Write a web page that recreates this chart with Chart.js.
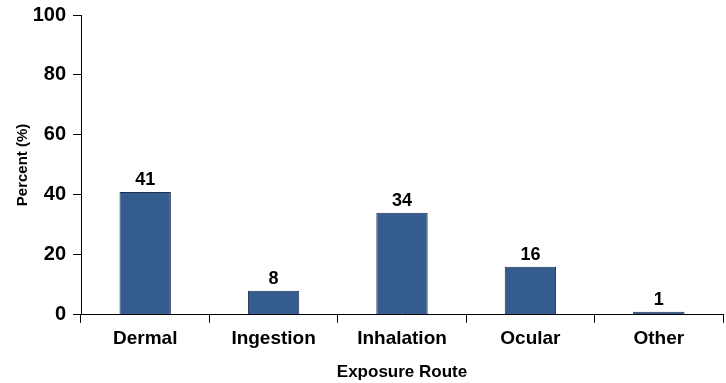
<!DOCTYPE html>
<html>
<head>
<meta charset="utf-8">
<title>Exposure Route</title>
<script src="https://cdn.jsdelivr.net/npm/chart.js@4.4.0/dist/chart.umd.min.js"></script>
<style>
  html, body { margin: 0; padding: 0; background: #fff; }
  #wrap { width: 726px; height: 383px; }
</style>
</head>
<body>
<div id="wrap"><canvas id="myChart"></canvas></div>
<script>
var routes = ['Dermal', 'Ingestion', 'Inhalation', 'Ocular', 'Other'];
var percents = [41, 8, 34, 16, 1];
var yTicks = [0, 20, 40, 60, 80, 100];

var FONT = '"Liberation Sans", Arial, sans-serif';

// value labels above each bar
var barLabels = {
  id: 'barLabels',
  afterDatasetsDraw: function(chart) {
    var ctx = chart.ctx;
    var meta = chart.getDatasetMeta(0);
    ctx.save();
    ctx.font = 'bold 18px ' + FONT;
    ctx.fillStyle = '#000';
    ctx.textAlign = 'center';
    ctx.textBaseline = 'bottom';
    meta.data.forEach(function(bar, i) {
      ctx.fillText(percents[i], bar.x, bar.y - 3);
    });
    ctx.restore();
  }
};

var ctx = document.getElementById('myChart').getContext('2d');
var chart = new Chart(ctx, {
  type: 'bar',
  data: {
    labels: routes,
    datasets: [{
      data: percents,
      backgroundColor: '#345c8f',
      borderColor: '#1c2f4d',
      borderWidth: 1,
      categoryPercentage: 1,
      barPercentage: 0.4
    }]
  },
  options: {
    responsive: true,
    maintainAspectRatio: false,
    animation: false,
    layout: { padding: { top: 0, right: 3, left: 14, bottom: 0 } },
    plugins: {
      legend: { display: false },
      tooltip: { enabled: false }
    },
    scales: {
      x: {
        grid: {
          offset: true,
          drawOnChartArea: false,
          drawTicks: true,
          tickLength: 8,
          color: '#000'
        },
        border: { color: '#000', width: 1 },
        ticks: {
          color: '#000',
          padding: 5,
          font: { family: FONT, size: 19, weight: 'bold' }
        },
        title: {
          display: true,
          text: 'Exposure Route',
          color: '#000',
          padding: { top: 7, bottom: 0 },
          font: { family: FONT, size: 17, weight: 'bold' }
        }
      },
      y: {
        min: 0,
        max: 100,
        afterBuildTicks: function(scale) {
          scale.ticks = yTicks.map(function(v) { return { value: v }; });
        },
        afterFit: function(scale) {
          scale.width = 67;
          scale.paddingTop = 15;
          scale.paddingBottom = 0;
        },
        grid: {
          drawOnChartArea: false,
          drawTicks: true,
          tickLength: 8,
          color: '#000'
        },
        border: { color: '#000', width: 1 },
        ticks: {
          color: '#000',
          padding: 7,
          font: { family: FONT, size: 20, weight: 'bold' }
        },
        title: {
          display: true,
          text: 'Percent (%)',
          color: '#000',
          padding: { top: 0, bottom: 0 },
          font: { family: FONT, size: 15, weight: 'bold' }
        }
      }
    }
  },
  plugins: [barLabels]
});
</script>
</body>
</html>
